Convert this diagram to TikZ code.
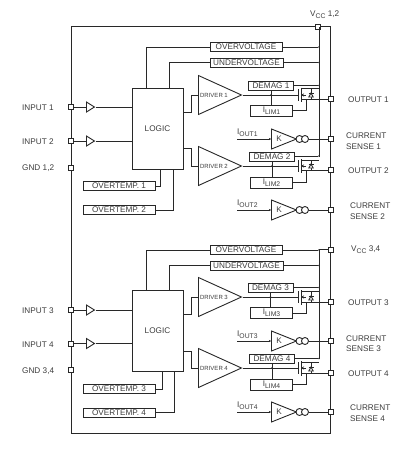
\documentclass[tikz,border=0pt]{standalone}
\usepackage{fontspec}
\setmainfont{Liberation Sans}
\usetikzlibrary{arrows.meta,positioning,calc,shapes.geometric}
\definecolor{LineC}{RGB}{40,40,40}
\definecolor{TextC}{RGB}{60,60,60}
\newcommand{\lowtxt}[1]{\raisebox{-1.8pt}{\fontsize{6.8}{7}\selectfont #1}}
\tikzset{
  wire/.style={draw=LineC,line width=0.9pt},
  frame/.style={draw=LineC,line width=0.9pt,minimum width=259.5pt,minimum height=407pt,inner sep=0pt},
  pin/.style={rectangle,draw=LineC,fill=white,line width=0.9pt,minimum size=5pt,inner sep=0pt},
  lab/.style={font=\fontsize{8.2}{10.5}\selectfont,text=TextC,inner sep=0pt,anchor=west,align=left},
  logicbox/.style={draw=LineC,line width=1pt,minimum width=51pt,minimum height=81pt,
                   font=\fontsize{8.2}{9}\selectfont,text=TextC,inner sep=0pt},
  wbox/.style={draw=LineC,line width=0.9pt,minimum width=72pt,minimum height=9pt,
               font=\fontsize{8.2}{9}\selectfont,text=TextC,inner sep=0pt},
  limbox/.style={wbox,minimum width=42pt,minimum height=11pt},
  dembox/.style={wbox,minimum width=45pt},
  amp/.style={isosceles triangle,isosceles triangle stretches,draw=LineC,line width=0.9pt,
              shape border rotate=0,inner sep=0pt,anchor=lower side},
  drv/.style={amp,minimum width=39pt,minimum height=43pt},
  kamp/.style={amp,minimum width=20pt,minimum height=25pt},
  buf/.style={amp,minimum width=10pt,minimum height=8pt},
  bub/.style={circle,draw=LineC,fill=white,line width=0.9pt,minimum size=7pt,inner sep=0pt},
  jct/.style={circle,fill=LineC,minimum size=1.8pt,inner sep=0pt},
  sense/.style={wire,-{Stealth[length=2.2pt,width=2.4pt]}},
}
\begin{document}
\begin{tikzpicture}[x=1pt,y=-1pt]
  \useasboundingbox (0,0) rectangle (407,456);
  \node[frame] (chip) at (200.75,229.5) {};
  % supply pins and buses
  \node[pin] (vcca) at (318,26.5) {};
  \node[pin] (vccb) at (331,249.5) {};
  \node[lab] (vccalab) at (310,15) {V\lowtxt{CC} 1,2};
  \node[lab] (vccblab) at (351,250) {V\lowtxt{CC} 3,4};
  \coordinate (busatop) at (319,27);
  \coordinate (busaend) at (319,156.5);
  \coordinate (busbtop) at (319,249.5);
  \coordinate (busbend) at (319,359);
  \draw[wire] (busatop) -- (busaend);
  \draw[wire] (vccb) -- (busbtop) -- (busbend);
  % two logic blocks
  \foreach \m/\yLg/\yOv/\yUv/\yDa/\yDb/\yTa/\yTb/\xTa/\xTb/\na/\nb in
     {1/128.5/47/62.5/112/148.5/186/210/160/173/1/2,
      2/331/250/265.5/314/351/389/412.5/162/174.5/3/4}{
    \node[logicbox] (logic\m) at (157.5,\yLg) {LOGIC};
    \node[wbox] (ov\m) at (246,\yOv) {OVERVOLTAGE};
    \node[wbox,minimum width=73pt] (uv\m) at (246.5,\yUv) {UNDERVOLTAGE};
    \node[jct] (ovj\m) at (319,\yOv) {};
    \node[jct] (uvj\m) at (319,\yUv) {};
    \draw[wire] (ov\m.east) -- (ovj\m);
    \draw[wire] (uv\m.east) -- (uvj\m);
    \draw[wire] (ov\m.west) -| (146,0 |- logic\m.north);
    \draw[wire] (uv\m.west) -| (169,0 |- logic\m.north);
    \node[wbox] (ot\na) at (119,\yTa) {OVERTEMP. \na};
    \node[wbox] (ot\nb) at (119,\yTb) {OVERTEMP. \nb};
    \draw[wire] (ot\na.east) -| (\xTa,0 |- logic\m.south);
    \draw[wire] (ot\nb.east) -| (\xTb,0 |- logic\m.south);
    \coordinate (dout\na) at (logic\m.east |- 0,\yDa);
    \coordinate (dout\nb) at (logic\m.east |- 0,\yDb);
  }
  % input side
  \foreach \n/\yIn/\lg in {1/107/1,2/141/1,3/310/2,4/343.5/2}{
    \node[pin] (pinin\n) at (71,\yIn) {};
    \node[lab] (inlab\n) at (22,\yIn+1) {INPUT \n};
    \node[buf] (bufin\n) at (86,\yIn) {};
    \draw[wire] (pinin\n) -- (bufin\n.lower side);
    \draw[wire] (bufin\n.apex) -- (pinin\n -| logic\lg.west);
  }
  \node[pin] (gnda) at (71,168) {};
  \node[pin] (gndb) at (71,370) {};
  \node[lab] (gndalab) at (22,168) {GND 1,2};
  \node[lab] (gndblab) at (22,371) {GND 3,4};
  % one output channel
  \foreach \n/\yD/\yDm/\xDm/\yLm/\yTp/\yOut/\yK/\yI/\xCs/\yCs in
     {1/95/86/271/110.5/88.5/99/139/133/346/141,
      2/166/156.5/272/182.5/160/170/210/204/350/211,
      3/297/288/270.5/313/291/302/341/335/346/343.5,
      4/368/359/272/384.5/362/373/412/406/350/413}{
    \node[drv] (drv\n) at (198,\yD) {};
    \node[font=\fontsize{6}{7}\selectfont,text=TextC,inner sep=0pt] (drvlab\n) at (214,\yD) {DRIVER \n};
    \draw[wire] (dout\n) -| (191,\yD) -- (drv\n.lower side);
    \node[dembox] (dem\n) at (\xDm,\yDm) {DEMAG \n};
    \node[limbox] (lim\n) at (271.5,\yLm) {I\lowtxt{LIM\n}};
    \node[jct] (stem\n) at (dem\n.south |- drv\n.apex) {};
    \draw[wire] (dem\n.south) -- (lim\n.north -| dem\n.south);
    \node[jct] (demj\n) at (319,\yDm-0.5) {};
    \draw[wire] (dem\n.east |- demj\n) -- (demj\n);
    % power switch
    \coordinate (gate\n) at (298,\yD);
    \coordinate (chtop\n) at (301,\yTp);
    \coordinate (chbot\n) at (301,\yOut);
    \coordinate (srcj\n) at (306,\yOut);
    \coordinate (dtop\n) at (311,\yTp);
    \coordinate (dbot\n) at (311,\yOut);
    \node[pin] (out\n) at (331,\yOut) {};
    \node[lab] (outlab\n) at (348,\yOut+1) {OUTPUT \n};
    \draw[wire] (drv\n.apex) -- (gate\n);
    \draw[wire,line width=1pt] ($(gate\n)+(0,-6)$) -- ($(gate\n)+(0,6)$);
    \draw[wire,line width=1pt] ($(chtop\n)+(0,-1)$) -- ($(chbot\n)+(0,3)$);
    \draw[wire] (chtop\n) -- (chtop\n -| demj\n);
    \draw[wire] (chbot\n) -- (out\n);
    \draw[wire] (srcj\n) |- (lim\n.east);
    \draw[wire] (dtop\n) -- (dbot\n);
    \draw[wire,-{Stealth[length=3pt,width=3pt]}] (srcj\n |- gate\n) -- (chbot\n |- gate\n);
    \draw[wire,fill=white] ($(dbot\n)+(-2.2,-2)$) -- ($(dbot\n)+(2.2,-2)$) -- ($(dbot\n)+(0,-6)$) -- cycle;
    \draw[wire] ($(dbot\n)+(-2.5,-6)$) -- ($(dbot\n)+(2.5,-6)$);
    % current sense
    \node[kamp] (kamp\n) at (271,\yK) {};
    \node[font=\fontsize{8.2}{9}\selectfont,text=TextC,inner sep=0pt] (klab\n) at (279,\yK) {K};
    \node[bub] (bua\n) at (299.5,\yK) {};
    \node[bub] (bub\n) at (305,\yK) {};
    \node[pin] (cs\n) at (331,\yK) {};
    \node[lab] (cslab\n) at (\xCs,\yCs) {CURRENT\\SENSE \n};
    \node[lab] (ioutlab\n) at (237,\yI) {I\lowtxt{OUT\n}};
    \coordinate (iout\n) at (237,\yK);
    \draw[sense] (iout\n) -- (kamp\n.lower side);
    \draw[wire] (bub\n.east) -- (cs\n);
  }
\end{tikzpicture}
\end{document}
